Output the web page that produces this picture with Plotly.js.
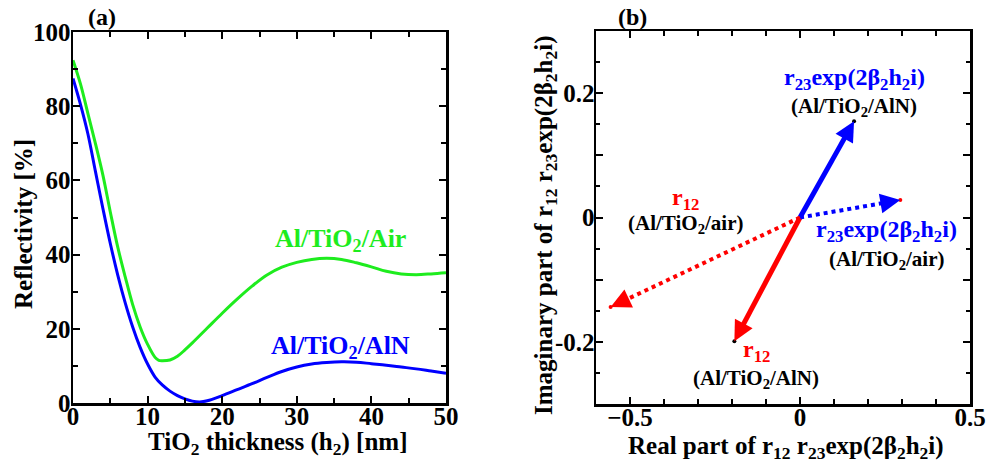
<!DOCTYPE html>
<html>
<head>
<meta charset="utf-8">
<script src="https://cdn.plot.ly/plotly-3.0.1.min.js"></script>
<style>html,body{margin:0;padding:0;background:#fff}#plot{width:987px;height:462px}</style>
</head>
<body>
<div id="plot"></div>
<script>
// ---------- Data: panel (a) reflectivity vs TiO2 thickness ----------
const thickness = [0,1,2,3,4,5,6,7,8,9,10,11,11.5,12,13,14,15,16,18,20,22,24,26,28,30,32,34,36,38,40,42,44,46,48,50];
const reflAir   = [92.4,86,78,70,61.5,51.5,42,34,26.5,20.5,15.8,12.3,11.5,11.4,11.6,12.6,14.3,16.2,20.2,24.2,28,31.5,34.5,36.6,37.9,38.7,39.0,38.7,37.8,36.7,35.5,34.8,34.6,34.8,35.1];
const thicknessAlN = [0,1,2,3,4,5,6,7,8,9,10,11,12,13,14,15,16,17,18,20,22,24,26,28,30,32,34,36,38,40,42,44,46,48,50];
const reflAlN   = [87.5,80.5,72.5,62.5,52.5,43,34.5,27,20.5,15,10.5,7,4.8,3.2,2,1.1,0.5,0.3,0.6,2,3.6,5.2,6.9,8.5,9.7,10.5,10.9,11.1,11.0,10.6,10.2,9.7,9.2,8.6,8.0];
const curveLabels = ['Al/TiO<sub>2</sub>/Air', 'Al/TiO<sub>2</sub>/AlN'];

// ---------- Data: panel (b) complex-plane vectors ----------
const vecNames = ['r23 (Al/TiO2/AlN)', 'r12 (Al/TiO2/AlN)', 'r23 (Al/TiO2/air)', 'r12 (Al/TiO2/air)'];
const vecRe = [0.159, -0.193, 0.295, -0.557];
const vecIm = [0.155, -0.199, 0.028, -0.144];
const termLabels = ['r<sub>23</sub>exp(2β<sub>2</sub>h<sub>2</sub>i)', 'r<sub>12</sub>', 'r<sub>23</sub>exp(2β<sub>2</sub>h<sub>2</sub>i)', 'r<sub>12</sub>'];
const caseLabels = ['(Al/TiO<sub>2</sub>/AlN)', '(Al/TiO<sub>2</sub>/AlN)', '(Al/TiO<sub>2</sub>/air)', '(Al/TiO<sub>2</sub>/air)'];
const yTickVals = [-0.3,-0.2,-0.1,0,0.1,0.2,0.3];
const yTickText = ['','-0.2','','0','','0.2',''];

// ---------- Styles ----------
const FONT = 'Liberation Serif, Times New Roman, serif';
const GREEN = '#1eec1e', BLUE = '#0000ff', RED = '#ff0000';
const vecColor = [BLUE, RED, BLUE, RED];
const vecDash = ['solid','solid','dot','dot'];
const tipColor = ['#000','#000',RED,RED];
const termPos = [[0.159,0.223],[-0.128,-0.214],[0.253,-0.021],[-0.338,0.030]];
const casePos = [[0.159,0.178],[-0.128,-0.259],[0.253,-0.068],[-0.338,-0.010]];
const b = s => '<b>' + s + '</b>';

const traces = [
  {x: thickness, y: reflAir, mode:'lines', line:{color:GREEN, width:3, shape:'spline'}, xaxis:'x', yaxis:'y', name:'Al/TiO2/Air'},
  {x: thicknessAlN, y: reflAlN, mode:'lines', line:{color:BLUE, width:3, shape:'spline'}, xaxis:'x', yaxis:'y', name:'Al/TiO2/AlN'}
];

const annotations = [];
for (let i = 0; i < vecRe.length; i++) {
  traces.push({x:[0, vecRe[i]*0.93], y:[0, vecIm[i]*0.93], mode:'lines', xaxis:'x2', yaxis:'y2',
    line:{color:vecColor[i], width: vecDash[i]==='dot' ? 4 : 5, dash: vecDash[i]}, name: vecNames[i]});
  annotations.push({xref:'x2', yref:'y2', axref:'x2', ayref:'y2', x: vecRe[i], y: vecIm[i],
    ax: vecRe[i]*0.9, ay: vecIm[i]*0.9, showarrow:true, arrowhead:2, arrowsize:1, arrowwidth:4,
    arrowcolor: vecColor[i], text:'', standoff:0});
  annotations.push({xref:'x2', yref:'y2', x: termPos[i][0], y: termPos[i][1], text: b(termLabels[i]), showarrow:false,
    font:{family:FONT, size:24, color:vecColor[i], weight:'bold'}});
  annotations.push({xref:'x2', yref:'y2', x: casePos[i][0], y: casePos[i][1], text: b(caseLabels[i]), showarrow:false,
    font:{family:FONT, size:21, color:'#000', weight:'bold'}});
}
traces.push({x: vecRe, y: vecIm, mode:'markers', xaxis:'x2', yaxis:'y2', marker:{color:tipColor, size:4}, name:'tips'});

annotations.push({xref:'x', yref:'y', x:35.8, y:43.9, text:b(curveLabels[0]), showarrow:false, font:{family:FONT,size:26,color:GREEN,weight:'bold'}});
annotations.push({xref:'x', yref:'y', x:35.8, y:15.2, text:b(curveLabels[1]), showarrow:false, font:{family:FONT,size:26,color:BLUE,weight:'bold'}});

const W = 987, H = 462;
const titleFont = {family:FONT, size:25, color:'#000', weight:'bold'};
function paperAnn(px, py, text, angle, font) {
  return {xref:'paper', yref:'paper', x: px/W, y: 1 - py/H, text: b(text), showarrow:false, textangle: angle||0,
    xanchor:'center', yanchor:'middle', font: font || titleFont};
}
annotations.push(paperAnn(23, 224, 'Reflectivity [%]', -90));
annotations.push(paperAnn(277, 443, 'TiO<sub>2</sub> thickness (h<sub>2</sub>) [nm]', 0));
annotations.push(paperAnn(545, 225, 'Imaginary part of r<sub>12</sub> r<sub>23</sub>exp(2β<sub>2</sub>h<sub>2</sub>i)', -90));
annotations.push(paperAnn(786, 447, 'Real part of r<sub>12</sub> r<sub>23</sub>exp(2β<sub>2</sub>h<sub>2</sub>i)', 0));
annotations.push(paperAnn(102, 17, '(a)', 0, {family:FONT, size:24, color:'#000', weight:'bold'}));
annotations.push(paperAnn(632, 17, '(b)', 0, {family:FONT, size:24, color:'#000', weight:'bold'}));

const tickFont = {family:FONT, size:25, color:'#000', weight:'bold'};
const baseAxis = {showline:true, linecolor:'#000', linewidth:2.5, mirror:'allticks', ticks:'inside',
  tickwidth:2, ticklen:7, tickcolor:'#000', showgrid:false, zeroline:false, tickfont:tickFont, fixedrange:true,
  tickprefix:'<b>', ticksuffix:'</b>'};

const layout = {
  width: W, height: H, margin:{l:0, r:0, t:0, b:0}, showlegend:false,
  paper_bgcolor:'#fff', plot_bgcolor:'#fff',
  xaxis: Object.assign({}, baseAxis, {domain:[73/W, 446/W], range:[0,50], tick0:0, dtick:10, ticklabelstandoff:-11,
    minor:{dtick:5, ticklen:5, tickwidth:2, ticks:'inside', tickcolor:'#000'}, anchor:'y'}),
  yaxis: Object.assign({}, baseAxis, {domain:[1-403/H, 1-32/H], range:[0,100], tick0:0, dtick:20, ticklabelstandoff:-5,
    minor:{dtick:10, ticklen:5, tickwidth:2, ticks:'inside', tickcolor:'#000'}, anchor:'x'}),
  xaxis2: Object.assign({}, baseAxis, {domain:[596/W, 970/W], range:[-0.6,0.5], tick0:0, dtick:0.5, ticklabelstandoff:-11,
    minor:{dtick:0.1, ticklen:5, tickwidth:2, ticks:'inside', tickcolor:'#000'}, anchor:'y2'}),
  yaxis2: Object.assign({}, baseAxis, {domain:[1-404/H, 1-31/H], range:[-0.3,0.3], tickmode:'array', ticklabelstandoff:-6,
    tickvals: yTickVals, ticktext: yTickText.map(t => t ? b(t) : ''), tickprefix:'', ticksuffix:'',
    minor:{dtick:0.05, ticklen:4, tickwidth:2, ticks:'inside', tickcolor:'#000'}, anchor:'x2'}),
  annotations
};

Plotly.newPlot('plot', traces, layout, {staticPlot:true, displayModeBar:false});
</script>
</body>
</html>
